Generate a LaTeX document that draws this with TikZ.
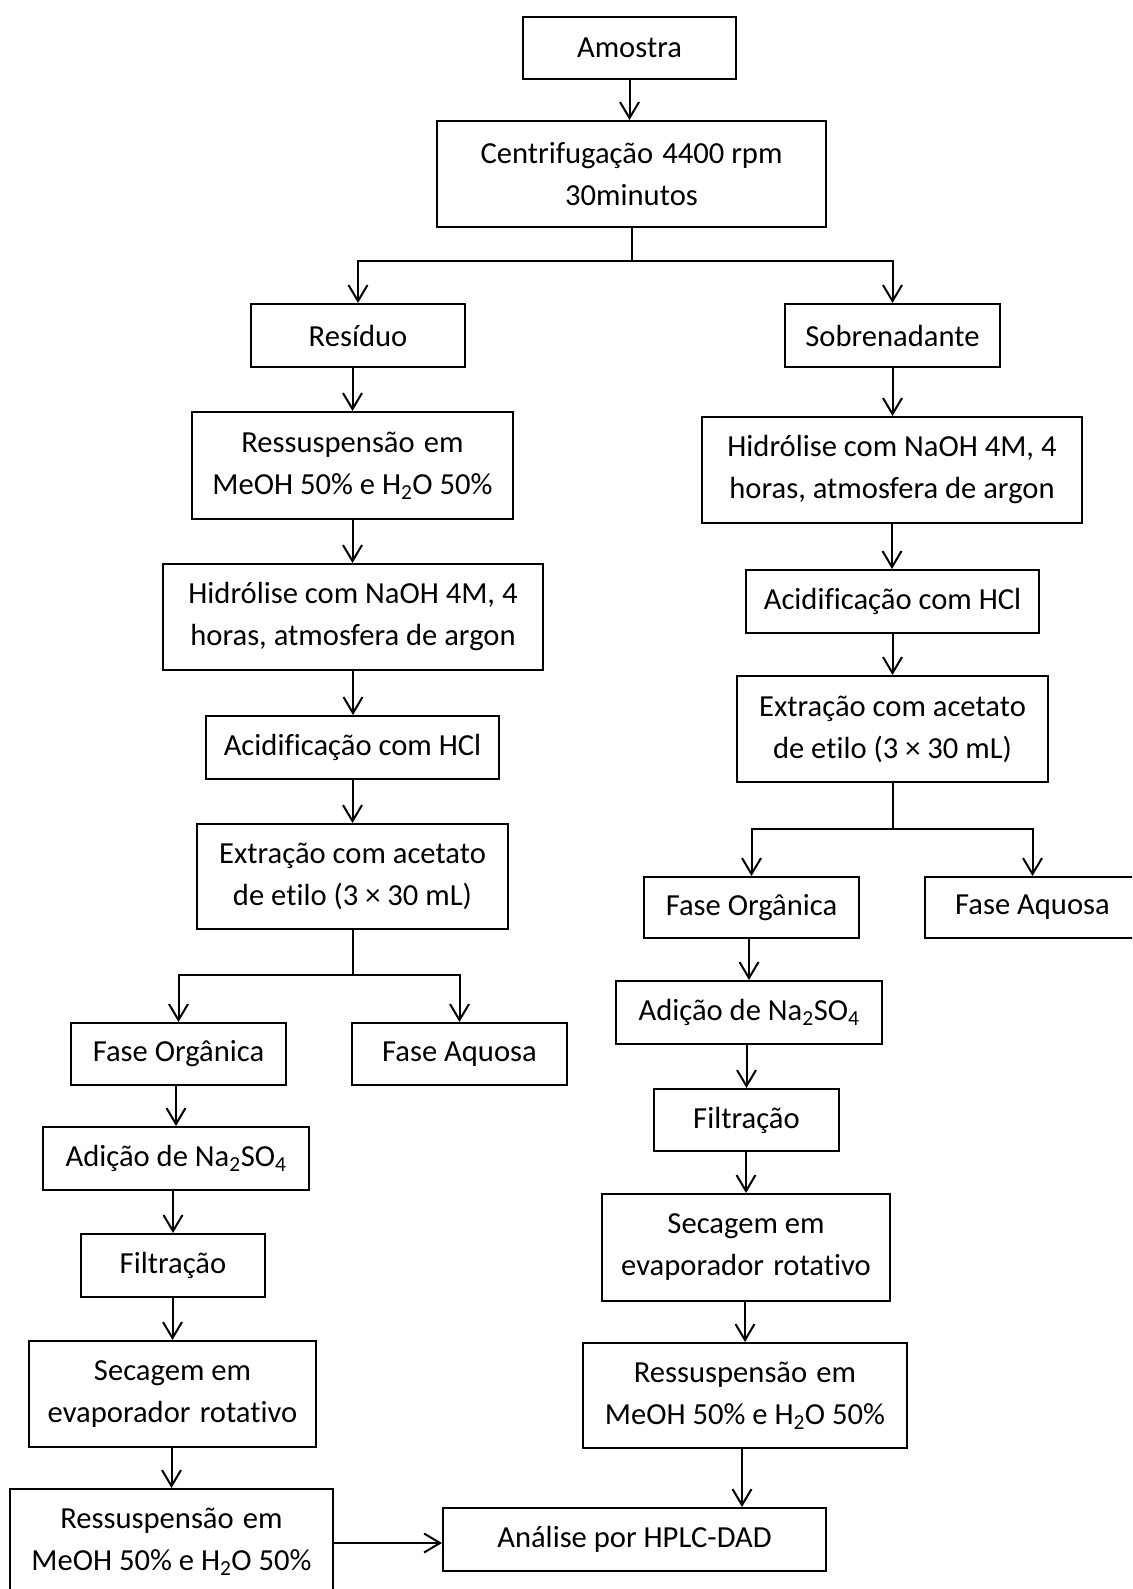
\documentclass[tikz,border=0pt]{standalone}
\usepackage{fontspec}
\setmainfont{Carlito}[Ligatures={NoCommon}]
\usetikzlibrary{arrows.meta}
\newcommand{\wsp}{\hspace{0.3em}}
\begin{document}
\begin{tikzpicture}[x=1pt,y=-1pt,
  box/.style={draw=black, line width=2pt, rectangle, inner sep=0pt, align=center,
    font=\fontsize{30.6}{42}\selectfont},
  arr/.style={draw=black, line width=2pt, -{Straight Barb[length=16pt,width=19pt,line width=2pt]}},
  ln/.style={draw=black, line width=2pt}]
\useasboundingbox (0,0) rectangle (1132,1589);
\fill[white] (0,0) rectangle (1132,1589);
\clip (0,0) rectangle (1132,1589);

% nodes
\node[box, minimum width=213pt, minimum height=62pt] (amostra) at (629.5,48) {Amostra};
\node[box, minimum width=389pt, minimum height=106pt] (centrif) at (631.5,174) {Centrifugação\wsp 4400 rpm\\30minutos};
\node[box, minimum width=214pt, minimum height=63pt] (residuo) at (358,335.5) {Resíduo};
\node[box, minimum width=215pt, minimum height=63pt] (sobr) at (892.5,335.5) {Sobrenadante};

% left column
\node[box, minimum width=321pt, minimum height=107pt] (ressLa) at (352.5,465.5) {Ressuspensão\wsp em\\MeOH 50\% e H\textsubscript{2}O 50\%};
\node[box, minimum width=380pt, minimum height=106pt] (hidrL) at (353,617) {Hidrólise com NaOH 4M, 4\\horas, atmosfera de argon};
\node[box, minimum width=293pt, minimum height=63pt] (acidL) at (352.5,747.5) {Acidificação com HCl};
\node[box, minimum width=311pt, minimum height=105pt] (extrL) at (352.5,876.5) {Extração com acetato\\de etilo (3 × 30 mL)};
\node[box, minimum width=215pt, minimum height=62pt] (orgL) at (178.5,1054) {Fase Orgânica};
\node[box, minimum width=215pt, minimum height=62pt] (aqL) at (459.5,1054) {Fase Aquosa};
\node[box, minimum width=266pt, minimum height=63pt] (adL) at (176,1158.5) {Adição de Na\textsubscript{2}SO\textsubscript{4}};
\node[box, minimum width=184pt, minimum height=63pt] (filL) at (173,1265.5) {Filtração};
\node[box, minimum width=287pt, minimum height=106pt] (secL) at (172.5,1394) {Secagem em\\evaporador\wsp rotativo};
\node[box, minimum width=323pt, minimum height=106pt] (ressLb) at (171.5,1542) {Ressuspensão\wsp em\\MeOH 50\% e H\textsubscript{2}O 50\%};

% right column
\node[box, minimum width=380pt, minimum height=106pt] (hidrR) at (892,470) {Hidrólise com NaOH 4M, 4\\horas, atmosfera de argon};
\node[box, minimum width=293pt, minimum height=63pt] (acidR) at (892.5,601.5) {Acidificação com HCl};
\node[box, minimum width=311pt, minimum height=106pt] (extrR) at (892.5,729) {Extração com acetato\\de etilo (3 × 30 mL)};
\node[box, minimum width=215pt, minimum height=61pt] (orgR) at (751.5,907.5) {Fase Orgânica};
\node[box, minimum width=215pt, minimum height=61pt] (aqR) at (1032.5,907.5) {Fase Aquosa};
\node[box, minimum width=266pt, minimum height=63pt] (adR) at (749,1012.5) {Adição de Na\textsubscript{2}SO\textsubscript{4}};
\node[box, minimum width=185pt, minimum height=62pt] (filR) at (746.5,1120) {Filtração};
\node[box, minimum width=288pt, minimum height=107pt] (secR) at (746,1247.5) {Secagem em\\evaporador\wsp rotativo};
\node[box, minimum width=324pt, minimum height=105pt] (ressRb) at (745,1395.5) {Ressuspensão\wsp em\\MeOH 50\% e H\textsubscript{2}O 50\%};

\node[box, minimum width=383pt, minimum height=63pt] (analise) at (634.5,1539.5) {Análise por HPLC-DAD};

% connectors
\draw[arr] (amostra.south) -- (amostra.south |- centrif.north);
\coordinate (b1) at (632,261);
\draw[ln] (centrif.south -| b1) -- (b1);
\draw[arr] (b1) -| (residuo.north);
\draw[arr] (b1) -| (sobr.north);

\draw[arr] (ressLa.north |- residuo.south) -- (ressLa.north);
\draw[arr] (ressLa.south) -- (ressLa.south |- hidrL.north);
\draw[arr] (hidrL.south) -- (hidrL.south |- acidL.north);
\draw[arr] (acidL.south) -- (acidL.south |- extrL.north);
\coordinate (b2) at (353,975);
\draw[ln] (extrL.south -| b2) -- (b2);
\draw[arr] (b2) -| (orgL.north);
\draw[arr] (b2) -| (aqL.north);
\draw[arr] (adL.north |- orgL.south) -- (adL.north);
\draw[arr] (filL.north |- adL.south) -- (filL.north);
\draw[arr] (secL.north |- filL.south) -- (secL.north);
\draw[arr] (ressLb.north |- secL.south) -- (ressLb.north);
\draw[arr] (ressLb.east |- 0,1543) -- (analise.west |- 0,1543);

\draw[arr] (sobr.south) -- (sobr.south |- hidrR.north);
\draw[arr] (hidrR.south) -- (hidrR.south |- acidR.north);
\draw[arr] (acidR.south) -- (acidR.south |- extrR.north);
\coordinate (b3) at (893,829);
\draw[ln] (extrR.south -| b3) -- (b3);
\draw[arr] (b3) -| (orgR.north);
\draw[arr] (b3) -| (aqR.north);
\draw[arr] (adR.north |- orgR.south) -- (adR.north);
\draw[arr] (filR.north |- adR.south) -- (filR.north);
\draw[arr] (secR.north |- filR.south) -- (secR.north);
\draw[arr] (ressRb.north |- secR.south) -- (ressRb.north);
\draw[arr] (ressRb.south -| 742,0) -- (analise.north -| 742,0);
\end{tikzpicture}
\end{document}
